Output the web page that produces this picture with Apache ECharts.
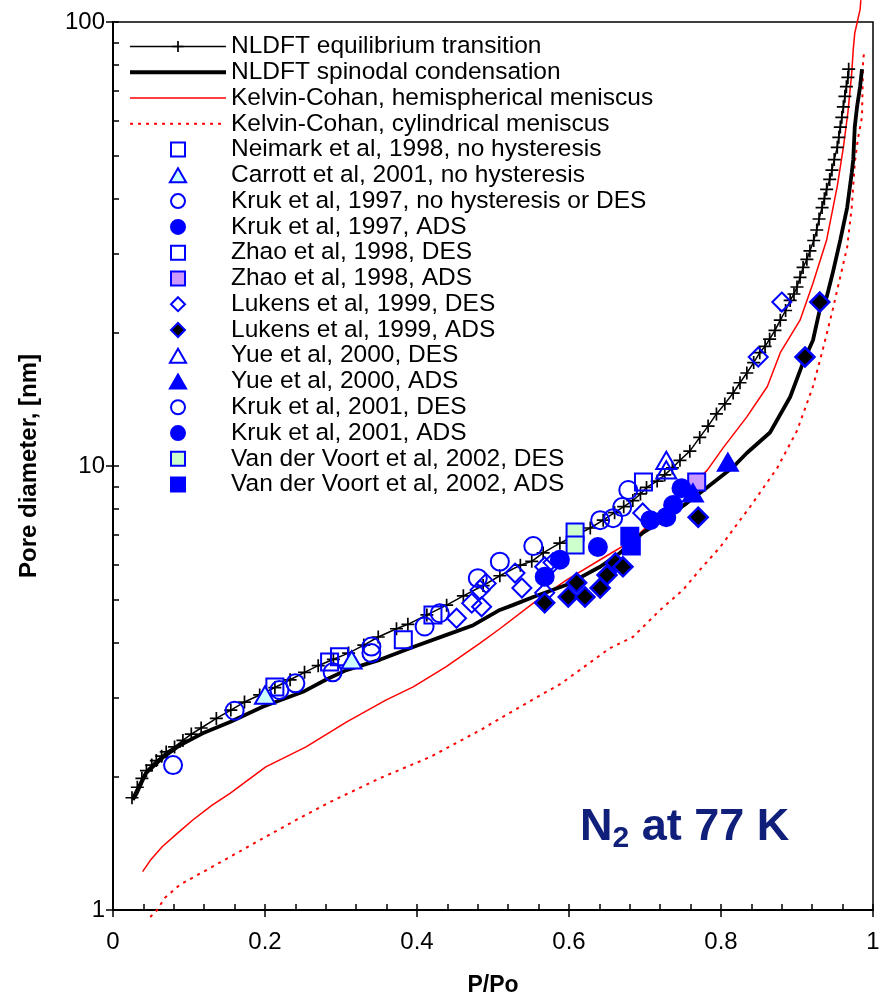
<!DOCTYPE html>
<html><head><meta charset="utf-8">
<script src="https://cdn.jsdelivr.net/npm/echarts@6/dist/echarts.min.js"></script>
<style>html,body{margin:0;padding:0;background:#fff}#c{width:886px;height:1003px}</style>
</head><body><div id="c"></div>
<script>
const FONT = '"Liberation Sans", Arial, sans-serif';

// ---- axis ticks ----
const yMinorTicks = [1,2,3,4,5,6,7,8,9,10,20,30,40,50,60,70,80,90,100];

// ---- curves (P/Po, pore diameter nm) ----
const eqP = [0.025,0.032,0.038,0.044,0.051,0.057,0.064,0.070,0.081,0.092,0.103,0.116,0.136,0.155,0.173,0.193,0.213,0.233,0.252,0.270,0.290,0.310,0.330,0.349,0.373,0.388,0.413,0.439,0.461,0.487,0.509,0.536,0.551,0.566,0.588,0.610,0.628,0.645,0.660,0.672,0.684,0.694,0.702,0.716,0.726,0.736,0.746,0.759,0.772,0.783,0.794,0.805,0.816,0.825,0.834,0.843,0.851,0.858,0.864,0.871,0.878,0.885,0.891,0.896,0.900,0.904,0.908,0.913,0.917,0.922,0.926,0.929,0.933,0.936,0.939,0.943,0.946,0.949,0.953,0.955,0.957,0.959,0.961,0.963,0.965,0.967,0.968];
const eqD = [1.79,1.89,1.98,2.06,2.12,2.17,2.22,2.27,2.33,2.41,2.49,2.57,2.70,2.82,2.94,3.05,3.17,3.30,3.43,3.55,3.67,3.79,3.95,4.12,4.30,4.40,4.62,4.86,5.10,5.38,5.66,5.98,6.10,6.37,6.70,7.00,7.25,7.55,7.85,8.10,8.36,8.65,8.95,9.25,9.55,9.90,10.3,10.8,11.6,12.3,13.1,13.8,14.6,15.4,16.2,17.1,18.0,18.6,19.3,20.2,21.3,22.4,23.6,24.4,25.3,26.6,28.0,29.2,30.5,32.2,34.0,36.0,38.2,40.0,42.0,44.2,46.4,49.0,52.2,55.0,58.0,61.0,64.4,68.0,71.5,75.0,78.3];

const spP = [0.026,0.031,0.043,0.066,0.088,0.118,0.154,0.197,0.250,0.280,0.307,0.351,0.395,0.438,0.474,0.509,0.526,0.553,0.597,0.641,0.667,0.697,0.729,0.755,0.782,0.816,0.834,0.8645,0.891,0.908,0.921,0.930,0.939,0.947,0.957,0.966,0.972,0.974,0.976,0.979,0.983,0.9855];
const spD = [1.77,1.83,2.03,2.21,2.35,2.50,2.65,2.87,3.10,3.30,3.47,3.66,3.91,4.16,4.38,4.74,4.86,5.07,5.40,5.93,6.37,7.07,7.67,8.25,8.96,9.95,10.7,11.9,14.3,17.1,19.2,22.5,24.0,27.2,32.3,38.2,45.7,48.9,58.0,64.4,71.5,78.3];

const hemiP = [0.039,0.050,0.065,0.085,0.105,0.130,0.154,0.201,0.254,0.307,0.359,0.395,0.438,0.483,0.509,0.553,0.597,0.641,0.684,0.729,0.755,0.782,0.803,0.834,0.861,0.878,0.904,0.921,0.939,0.953,0.961,0.967,0.972,0.974,0.976,0.979,0.983,0.984];
const hemiD = [1.22,1.30,1.39,1.49,1.595,1.72,1.83,2.10,2.33,2.65,2.97,3.18,3.53,3.99,4.30,4.91,5.54,6.15,6.81,8.08,8.83,9.79,11.0,12.9,15.1,18.0,21.3,25.8,32.3,42.7,52.2,62.6,76.6,86.6,94.4,99.5,106.6,112];

const cylP = [0.049,0.058,0.068,0.088,0.141,0.191,0.241,0.2855,0.351,0.417,0.483,0.522,0.590,0.654,0.684,0.720,0.750,0.772,0.799,0.825,0.838,0.874,0.900,0.921,0.934,0.947,0.957,0.966,0.972,0.976,0.980,0.9855,0.987,0.989];
const cylD = [0.964,1.0,1.064,1.14,1.28,1.43,1.595,1.75,1.98,2.21,2.54,2.78,3.24,3.89,4.12,4.74,5.26,5.83,6.57,7.55,8.08,9.9,12.0,15.1,18.3,22.5,26.7,31.1,38.2,48.1,54.3,61.1,82.3,86.6];

// ---- experimental points ----
const neimarkP = [0.213,0.285,0.298,0.382,0.421];
const neimarkD = [3.18,3.62,3.72,4.06,4.62];
const carrottP = [0.200,0.314];
const carrottD = [3.05,3.66];
const kruk97desP = [0.079,0.160,0.219,0.240,0.289,0.340,0.340,0.410,0.430,0.480,0.509,0.553];
const kruk97desD = [2.12,2.81,3.13,3.24,3.43,3.92,3.79,4.35,4.66,5.59,6.09,6.60];
const kruk97adsP = [0.568,0.588,0.638];
const kruk97adsD = [5.63,6.15,6.57];
const zhaoDesP = [0.698];
const zhaoDesD = [9.2];
const zhaoAdsP = [0.768];
const zhaoAdsD = [9.2];
const lukDesP = [0.452,0.472,0.485,0.483,0.491,0.529,0.538,0.568,0.579,0.568,0.697,0.849,0.880];
const lukDesD = [4.54,4.91,4.82,5.26,5.44,5.74,5.31,5.93,6.06,5.18,7.84,17.6,23.4];
const lukAdsP = [0.568,0.599,0.610,0.621,0.641,0.650,0.661,0.671,0.770,0.9105,0.930];
const lukAdsD = [4.92,5.07,5.46,5.07,5.31,5.68,6.05,5.93,7.67,17.6,23.4];
const yueDesP = [0.728,0.728];
const yueDesD = [10.3,9.8];
const yueAdsP = [0.763,0.809];
const yueAdsD = [8.7,10.2];
const kruk01desP = [0.641,0.658,0.670,0.678];
const kruk01desD = [7.55,7.63,8.08,8.83];
const kruk01adsP = [0.707,0.728,0.737,0.748];
const kruk01adsD = [7.55,7.67,8.17,8.91];
const vdvDesP = [0.608,0.608];
const vdvDesD = [7.1,6.64];
const vdvAdsP = [0.680,0.682];
const vdvAdsD = [6.95,6.60];

const names = [
 'NLDFT equilibrium transition','NLDFT spinodal condensation','Kelvin-Cohan, hemispherical meniscus','Kelvin-Cohan, cylindrical meniscus',
 'Neimark et al, 1998, no hysteresis','Carrott et al, 2001, no hysteresis','Kruk et al, 1997, no hysteresis or DES','Kruk et al, 1997, ADS',
 'Zhao et al, 1998, DES','Zhao et al, 1998, ADS','Lukens et al, 1999, DES','Lukens et al, 1999, ADS','Yue et al, 2000, DES','Yue et al, 2000, ADS',
 'Kruk et al, 2001, DES','Kruk et al, 2001, ADS','Van der Voort et al, 2002, DES','Van der Voort et al, 2002, ADS'];

const zip = (a,b) => a.map((v,i)=>[v,b[i]]);
const BLUE = '#0000ff';
const PLUS = 'path://M-1,0L1,0M0,-1L0,1';
const SQ = 'path://M0,0L10,0L10,10L0,10Z';
const TRI = 'path://M5,0L10,8.66L0,8.66Z';
const DIA = 'path://M5,0L10,5L5,10L0,5Z';
const CIR = 'circle';

function scat(name, P, D, symbol, size, fill, bw) {
  return {type:'scatter', name, data: zip(P,D), symbol, symbolSize: size, symbolKeepAspect:true, z: 5,
    itemStyle:{color: fill, borderColor: BLUE, borderWidth: bw || 2, opacity:1}};
}

const series = [
 {type:'line', name:names[0], data: zip(eqP,eqD), symbol: PLUS, symbolSize: 13, showSymbol:true, z:3,
   lineStyle:{color:'#000', width:1.5}, itemStyle:{color:'#000', borderColor:'#000', borderWidth:1.7}},
 {type:'line', name:names[1], data: zip(spP,spD), symbol:'none', z:3, lineStyle:{color:'#000', width:3.8}, itemStyle:{color:'#000'}},
 {type:'line', name:names[2], data: zip(hemiP,hemiD), symbol:'none', clip:false, z:2, lineStyle:{color:'#ff0000', width:1.5}, itemStyle:{color:'#ff0000'}},
 {type:'line', name:names[3], data: zip(cylP,cylD), symbol:'none', clip:false, z:2, lineStyle:{color:'#ff0000', width:2, type:[3,5]}, itemStyle:{color:'#ff0000'}},
 scat(names[4], neimarkP, neimarkD, SQ, 17, 'rgba(0,0,0,0)'),
 scat(names[5], carrottP, carrottD, TRI, 20, '#ccffff'),
 scat(names[6], kruk97desP, kruk97desD, CIR, 18, 'rgba(0,0,0,0)'),
 scat(names[7], kruk97adsP, kruk97adsD, CIR, 18, BLUE),
 scat(names[8], zhaoDesP, zhaoDesD, SQ, 17, 'rgba(0,0,0,0)'),
 scat(names[9], zhaoAdsP, zhaoAdsD, SQ, 17, '#cc99ff'),
 scat(names[10], lukDesP, lukDesD, DIA, 19, 'rgba(0,0,0,0)'),
 scat(names[11], lukAdsP, lukAdsD, DIA, 19, '#000000', 2.5),
 scat(names[12], yueDesP, yueDesD, TRI, 20, 'rgba(0,0,0,0)'),
 scat(names[13], yueAdsP, yueAdsD, TRI, 20, BLUE),
 scat(names[14], kruk01desP, kruk01desD, CIR, 18, 'rgba(0,0,0,0)'),
 scat(names[15], kruk01adsP, kruk01adsD, CIR, 18, BLUE),
 scat(names[16], vdvDesP, vdvDesD, SQ, 17, '#ccffcc'),
 scat(names[17], vdvAdsP, vdvAdsD, SQ, 17, BLUE)
];

const HIDE = {opacity:0, color:'rgba(0,0,0,0)', borderColor:'rgba(0,0,0,0)', borderWidth:0};
const legendData = names.map((n,i) => {
  const o = {name: n};
  if (i === 0) { o.lineStyle = {width:1.5, color:'#000'}; o.itemStyle = {borderWidth:1.7, borderColor:'#000', color:'#000'}; }
  else if (i === 1) { o.lineStyle = {width:4, color:'#000'}; o.itemStyle = HIDE; }
  else if (i === 2) { o.lineStyle = {width:1.5, color:'#ff0000'}; o.itemStyle = HIDE; }
  else if (i === 3) { o.lineStyle = {width:2, color:'#ff0000', type:[3,5]}; o.itemStyle = HIDE; }
  else { o.itemStyle = {borderWidth:2}; }
  return o;
});

const chart = echarts.init(document.getElementById('c'), null, {renderer:'canvas'});
chart.setOption({
  animation: false,
  backgroundColor: '#fff',
  textStyle: {fontFamily: FONT},
  grid: {left:113, right:13, top:22, bottom:93, show:true, borderColor:'#000', borderWidth:1.5, backgroundColor:'transparent'},
  legend: {
    data: legendData, orient:'vertical', left:128, top:34, padding:0, itemWidth:96, itemHeight:14, itemGap:0.77,
    selectedMode:false, symbolKeepAspect:true,
    textStyle:{fontFamily:FONT, fontSize:24.5, color:'#000'}
  },
  xAxis: [
    {type:'value', min:0, max:1, interval:0.2, position:'bottom',
      axisLine:{show:true, onZero:false, lineStyle:{color:'#000', width:2}},
      axisTick:{show:true, inside:false, length:7, lineStyle:{color:'#000', width:1.5}},
      axisLabel:{show:true, margin:20, fontSize:24, color:'#000', fontFamily:FONT},
      splitLine:{show:false},
      name:'P/Po', nameLocation:'middle', nameGap:64,
      nameTextStyle:{fontSize:23, fontWeight:'bold', color:'#000', fontFamily:FONT}},
    {type:'value', min:0, max:1, interval:0.04, position:'bottom',
      axisLine:{show:false, onZero:false}, axisTick:{show:true, inside:true, length:6, lineStyle:{color:'#000', width:1.5}},
      axisLabel:{show:false}, splitLine:{show:false}}
  ],
  yAxis: [
    {type:'log', logBase:10, min:1, max:100, position:'left',
      axisLine:{show:true, onZero:false, lineStyle:{color:'#000', width:2}},
      axisTick:{show:true, inside:false, length:7, lineStyle:{color:'#000', width:1.5}},
      axisLabel:{show:true, margin:8, fontSize:24, color:'#000', fontFamily:FONT},
      splitLine:{show:false},
      name:'Pore diameter, [nm]', nameLocation:'middle', nameGap:72,
      nameTextStyle:{fontSize:24, fontWeight:'bold', color:'#000', fontFamily:FONT}},
    {type:'log', logBase:10, min:1, max:100, position:'left',
      axisLine:{show:false, onZero:false},
      axisTick:{show:true, inside:true, length:6, customValues: yMinorTicks, lineStyle:{color:'#000', width:1.5}},
      axisLabel:{show:false}, splitLine:{show:false}}
  ],
  graphic: [{
    type:'text', left:580, top:805,
    style:{
      text:'{a|N}{b|2}{a| at 77 K}',
      rich:{
        a:{fontSize:45, fontWeight:'bold', fill:'#10207a', fontFamily:FONT},
        b:{fontSize:30, fontWeight:'bold', fill:'#10207a', fontFamily:FONT, padding:[22,0,0,0]}
      }
    }
  }],
  series: series
});
</script></body></html>
